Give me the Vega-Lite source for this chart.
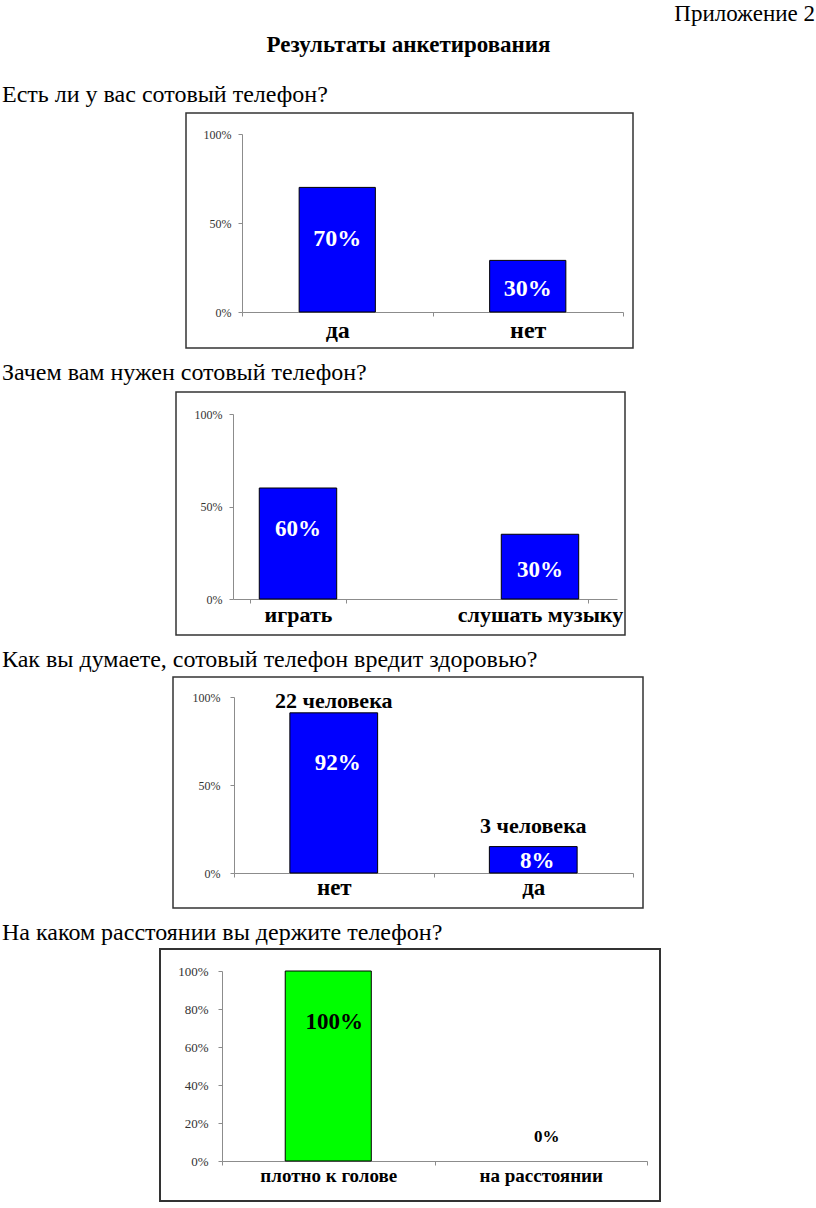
{
  "$schema": "https://vega.github.io/schema/vega-lite/v6.json",
  "padding": {"top": 3, "left": 2, "right": 0, "bottom": 0},
  "config": {
    "font": "Liberation Serif",
    "concat": {"spacing": 12},
    "title": {"font": "Liberation Serif", "fontSize": 24, "fontWeight": "normal", "color": "#000", "anchor": "start", "frame": "group", "offset": 5},
    "axis": {"grid": false, "title": null, "domainColor": "#8c8c8c", "tickColor": "#8c8c8c", "tickSize": 4, "labelFont": "Liberation Serif"},
    "axisX": {"labelAngle": 0, "labelFontWeight": "bold", "labelColor": "#000", "tickBand": "extent", "labelOverlap": false, "labelLimit": 400},
    "axisY": {"labelColor": "#333", "labelFontSize": 12}
  },
  "vconcat": [
    {
      "width": 813, "height": 45,
      "view": {"stroke": null},
      "title": {"text": "Приложение 2", "anchor": "end", "offset": 0, "fontSize": 23},
      "data": {"values": [{"t": "Результаты анкетирования"}]},
      "mark": {"type": "text", "fontSize": 23, "fontWeight": "bold", "baseline": "alphabetic", "dy": 3, "color": "#000"},
      "encoding": {"text": {"field": "t"}}
    },
    {
      "title": {"text": "Есть ли у вас  сотовый телефон?"},
      "spacing": 0,
      "hconcat": [
        {"width": 183, "height": 1, "view": {"stroke": null}, "data": {"values": []}, "mark": "text"},
        {
          "width": 447, "height": 235,
          "view": {"stroke": "#333", "strokeWidth": 1.5},
          "data": {"values": [
            {"answer": "да", "value": 70, "label": "70%"},
            {"answer": "нет", "value": 29, "label": "30%"}
          ]},
          "encoding": {
            "x": {"field": "answer", "type": "nominal", "sort": null,
                  "scale": {"type": "band", "range": [56, 437], "paddingInner": 0, "paddingOuter": 0},
                  "axis": {"offset": -36, "labelFontSize": 24, "labelPadding": 2}}
          },
          "layer": [
            {
              "mark": {"type": "bar", "fill": "#0000FF", "stroke": "#000", "strokeWidth": 1, "width": {"band": 0.4}},
              "encoding": {"y": {"field": "value", "type": "quantitative",
                "scale": {"domain": [0, 100], "range": [199, 21]},
                "axis": {"values": [0, 50, 100], "labelExpr": "datum.value + '%'", "offset": -56, "labelPadding": 7}}}
            },
            {
              "mark": {"type": "text", "color": "#fff", "fontSize": 24, "fontWeight": "bold", "baseline": "middle"},
              "encoding": {"text": {"field": "label"},
                "y": {"field": "value", "type": "quantitative", "scale": {"domain": [0, 100], "range": [211.4, 89.5]}, "axis": null}}
            }
          ],
          "resolve": {"scale": {"y": "independent"}}
        }
      ]
    },
    {
      "title": {"text": "Зачем вам нужен сотовый телефон?", "offset": 6},
      "spacing": 0,
      "hconcat": [
        {"width": 173, "height": 1, "view": {"stroke": null}, "data": {"values": []}, "mark": "text"},
        {
          "width": 449, "height": 243,
          "view": {"stroke": "#333", "strokeWidth": 1.5},
          "data": {"values": [
            {"answer": "играть", "value": 60, "label": "60%"},
            {"answer": "слушать музыку", "value": 35, "label": "30%"}
          ]},
          "encoding": {
            "x": {"field": "answer", "type": "nominal", "sort": null,
                  "scale": {"type": "band", "range": [57, 441], "paddingInner": 0.6, "paddingOuter": 0.0934, "align": 0.367},
                  "axis": {"offset": -36, "labelFontSize": 22, "labelPadding": 1}}
          },
          "layer": [
            {
              "mark": {"type": "bar", "fill": "#0000FF", "stroke": "#000", "strokeWidth": 1, "width": {"band": 0.8}},
              "encoding": {"y": {"field": "value", "type": "quantitative",
                "scale": {"domain": [0, 100], "range": [207, 22]},
                "axis": {"values": [0, 50, 100], "labelExpr": "datum.value + '%'", "offset": -57, "labelPadding": 7}}}
            },
            {
              "mark": {"type": "text", "color": "#fff", "fontSize": 23, "fontWeight": "bold", "baseline": "middle"},
              "encoding": {"text": {"field": "label"},
                "y": {"field": "value", "type": "quantitative", "scale": {"domain": [0, 100], "range": [235.4, 71.4]}, "axis": null}}
            }
          ],
          "resolve": {"scale": {"y": "independent"}}
        }
      ]
    },
    {
      "title": {"text": "Как вы думаете, сотовый телефон вредит здоровью?", "offset": 4},
      "spacing": 0,
      "hconcat": [
        {"width": 170, "height": 1, "view": {"stroke": null}, "data": {"values": []}, "mark": "text"},
        {
          "width": 470, "height": 231,
          "view": {"stroke": "#333", "strokeWidth": 1.5},
          "data": {"values": [
            {"answer": "нет", "value": 91, "label": "92%", "people": "22 человека"},
            {"answer": "да", "value": 15, "label": "8%", "people": "3 человека"}
          ]},
          "encoding": {
            "x": {"field": "answer", "type": "nominal", "sort": null,
                  "scale": {"type": "band", "range": [61, 460], "paddingInner": 0, "paddingOuter": 0},
                  "axis": {"offset": -35, "labelFontSize": 23, "labelPadding": -1}}
          },
          "layer": [
            {
              "mark": {"type": "bar", "fill": "#0000FF", "stroke": "#000", "strokeWidth": 1, "width": {"band": 0.44}},
              "encoding": {"y": {"field": "value", "type": "quantitative",
                "scale": {"domain": [0, 100], "range": [196, 20]},
                "axis": {"values": [0, 50, 100], "labelExpr": "datum.value + '%'", "offset": -61, "labelPadding": 10}}}
            },
            {
              "mark": {"type": "text", "color": "#fff", "fontSize": 23, "fontWeight": "bold", "baseline": "middle", "dx": 4},
              "encoding": {"text": {"field": "label"},
                "y": {"field": "value", "type": "quantitative", "scale": {"domain": [0, 100], "range": [203.3, 74.4]}, "axis": null}}
            },
            {
              "mark": {"type": "text", "color": "#000", "fontSize": 22, "fontWeight": "bold", "baseline": "middle"},
              "encoding": {"text": {"field": "people"},
                "y": {"field": "value", "type": "quantitative", "scale": {"domain": [0, 100], "range": [173.7, 9.2]}, "axis": null}}
            }
          ],
          "resolve": {"scale": {"y": "independent"}}
        }
      ]
    },
    {
      "title": {"text": "На каком  расстоянии  вы держите телефон?", "offset": 3},
      "spacing": 0,
      "hconcat": [
        {"width": 157, "height": 1, "view": {"stroke": null}, "data": {"values": []}, "mark": "text"},
        {
          "width": 500, "height": 252,
          "view": {"stroke": "#333", "strokeWidth": 2},
          "data": {"values": [
            {"answer": "плотно к голове", "value": 100, "label": "100%"},
            {"answer": "на расстоянии", "value": 0, "label": "0%"}
          ]},
          "encoding": {
            "x": {"field": "answer", "type": "nominal", "sort": null,
                  "scale": {"type": "band", "range": [62, 487], "paddingInner": 0, "paddingOuter": 0},
                  "axis": {"offset": -40, "labelFontSize": 19, "labelPadding": 1}}
          },
          "layer": [
            {
              "transform": [{"filter": "datum.value > 0"}],
              "mark": {"type": "bar", "fill": "#00FF00", "stroke": "#000", "strokeWidth": 1, "width": {"band": 0.405}},
              "encoding": {"y": {"field": "value", "type": "quantitative",
                "scale": {"domain": [0, 100], "range": [212, 22]},
                "axis": {"values": [0, 20, 40, 60, 80, 100], "labelExpr": "datum.value + '%'", "offset": -62, "labelPadding": 10, "labelFontSize": 13}}}
            },
            {
              "mark": {"type": "text", "color": "#000", "fontWeight": "bold", "baseline": "middle", "dx": 6},
              "encoding": {"text": {"field": "label"},
                "size": {"field": "value", "type": "quantitative", "scale": {"domain": [0, 100], "range": [17, 23]}, "legend": null},
                "y": {"field": "value", "type": "quantitative", "scale": {"domain": [0, 100], "range": [188, 73]}, "axis": null}}
            }
          ],
          "resolve": {"scale": {"y": "independent"}}
        }
      ]
    }
  ]
}
